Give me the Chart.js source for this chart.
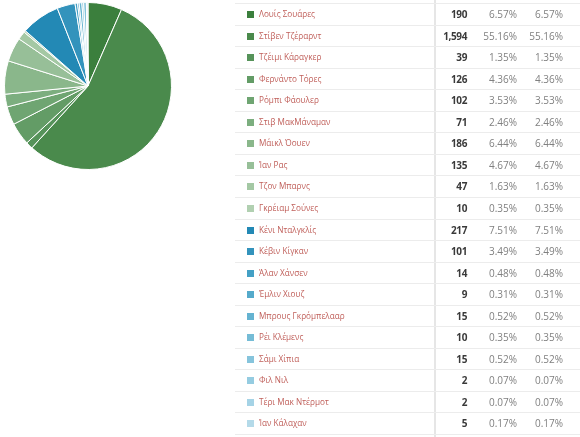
<!DOCTYPE html>
<html>
<head>
<meta charset="utf-8">
<script src="https://cdn.jsdelivr.net/npm/chart.js@4"></script>
<style>
  html, body { margin:0; padding:0; background:#fff; width:580px; height:437px; overflow:hidden; font-family:"Open Sans", sans-serif; }
  #pieWrap { position:absolute; left:0; top:0; width:176px; height:172px; }
  #tbl { position:absolute; left:0; top:0; width:580px; height:437px; }
  .row { position:absolute; left:235px; width:345px; height:21.55px; border-top:1px solid #ececec; box-sizing:border-box; }
  .sq { position:absolute; left:12px; width:7px; height:7px; top:7px; }
  .nm { position:absolute; left:24px; top:3px; font-size:8.2px; color:#c0605b; white-space:nowrap; line-height:14px; }
  .v { position:absolute; top:3px; font-size:10px; line-height:14px; text-align:right; white-space:nowrap; }
  .val { right:113px; color:#3a3a3a; font-weight:700; letter-spacing:-0.4px; }
  .p1 { right:63px; color:#808080; }
  .p2 { right:17px; color:#808080; }
  #vline { position:absolute; left:434px; top:0; width:2px; height:437px; background:#e6e6e6; }
</style>
</head>
<body>
<div id="pieWrap"><canvas id="c" width="176" height="172"></canvas></div>
<div id="tbl"><div id="vline"></div></div>
<script>
const names = ["Λουίς Σουάρες","Στίβεν Τζέραρντ","Τζέιμι Κάραγκερ","Φερνάντο Τόρες","Ρόμπι Φάουλερ","Στιβ ΜακΜάναμαν","Μάικλ Όουεν","Ίαν Ρας","Τζον Μπαρνς","Γκρέιαμ Σούνες","Κένι Νταλγκλίς","Κέβιν Κίγκαν","Άλαν Χάνσεν","Έμλιν Χιουζ","Μπρους Γκρόμπελααρ","Ρέι Κλέμενς","Σάμι Χίπια","Φιλ Νιλ","Τέρι Μακ Ντέρμοτ","Ίαν Κάλαχαν"];
const values = [190,1594,39,126,102,71,186,135,47,10,217,101,14,9,15,10,15,2,2,5];
const pctLabels = ["6.57%","55.16%","1.35%","4.36%","3.53%","2.46%","6.44%","4.67%","1.63%","0.35%","7.51%","3.49%","0.48%","0.31%","0.52%","0.35%","0.52%","0.07%","0.07%","0.17%"];
const valueLabels = ["190","1,594","39","126","102","71","186","135","47","10","217","101","14","9","15","10","15","2","2","5"];
const colors = ["#3b7f3d","#4a8a4c","#56935a","#639c66","#6fa572","#7cae7f","#8ab78b","#97bf98","#a4c8a4","#b1d0b1","#2389b5","#3393bc","#44a0c5","#55aacb","#65b3d1","#75bcd6","#86c4dc","#95cce1","#a5d3e6","#b4dae9"];

new Chart(document.getElementById('c'), {
  type: 'pie',
  data: { labels: names, datasets: [{ data: values, backgroundColor: colors, borderColor: '#ffffff', borderWidth: 1 }] },
  options: {
    responsive: false, animation: false,
    layout: { padding: 2 },
    plugins: { legend: { display: false }, tooltip: { enabled: false } }
  }
});

const tbl = document.getElementById('tbl');
const rowH = 21.55;
names.forEach((n, i) => {
  const r = document.createElement('div');
  r.className = 'row';
  r.style.top = (3 + i * rowH) + 'px';
  r.innerHTML = `<div class="sq" style="background:${colors[i]}"></div><div class="nm">${n}</div>` +
    `<div class="v val">${valueLabels[i]}</div><div class="v p1">${pctLabels[i]}</div><div class="v p2">${pctLabels[i]}</div>`;
  tbl.appendChild(r);
});
const last = document.createElement('div');
last.className = 'row';
last.style.top = (3 + names.length * rowH) + 'px';
last.style.height = '2px';
tbl.appendChild(last);
</script>
</body>
</html>
